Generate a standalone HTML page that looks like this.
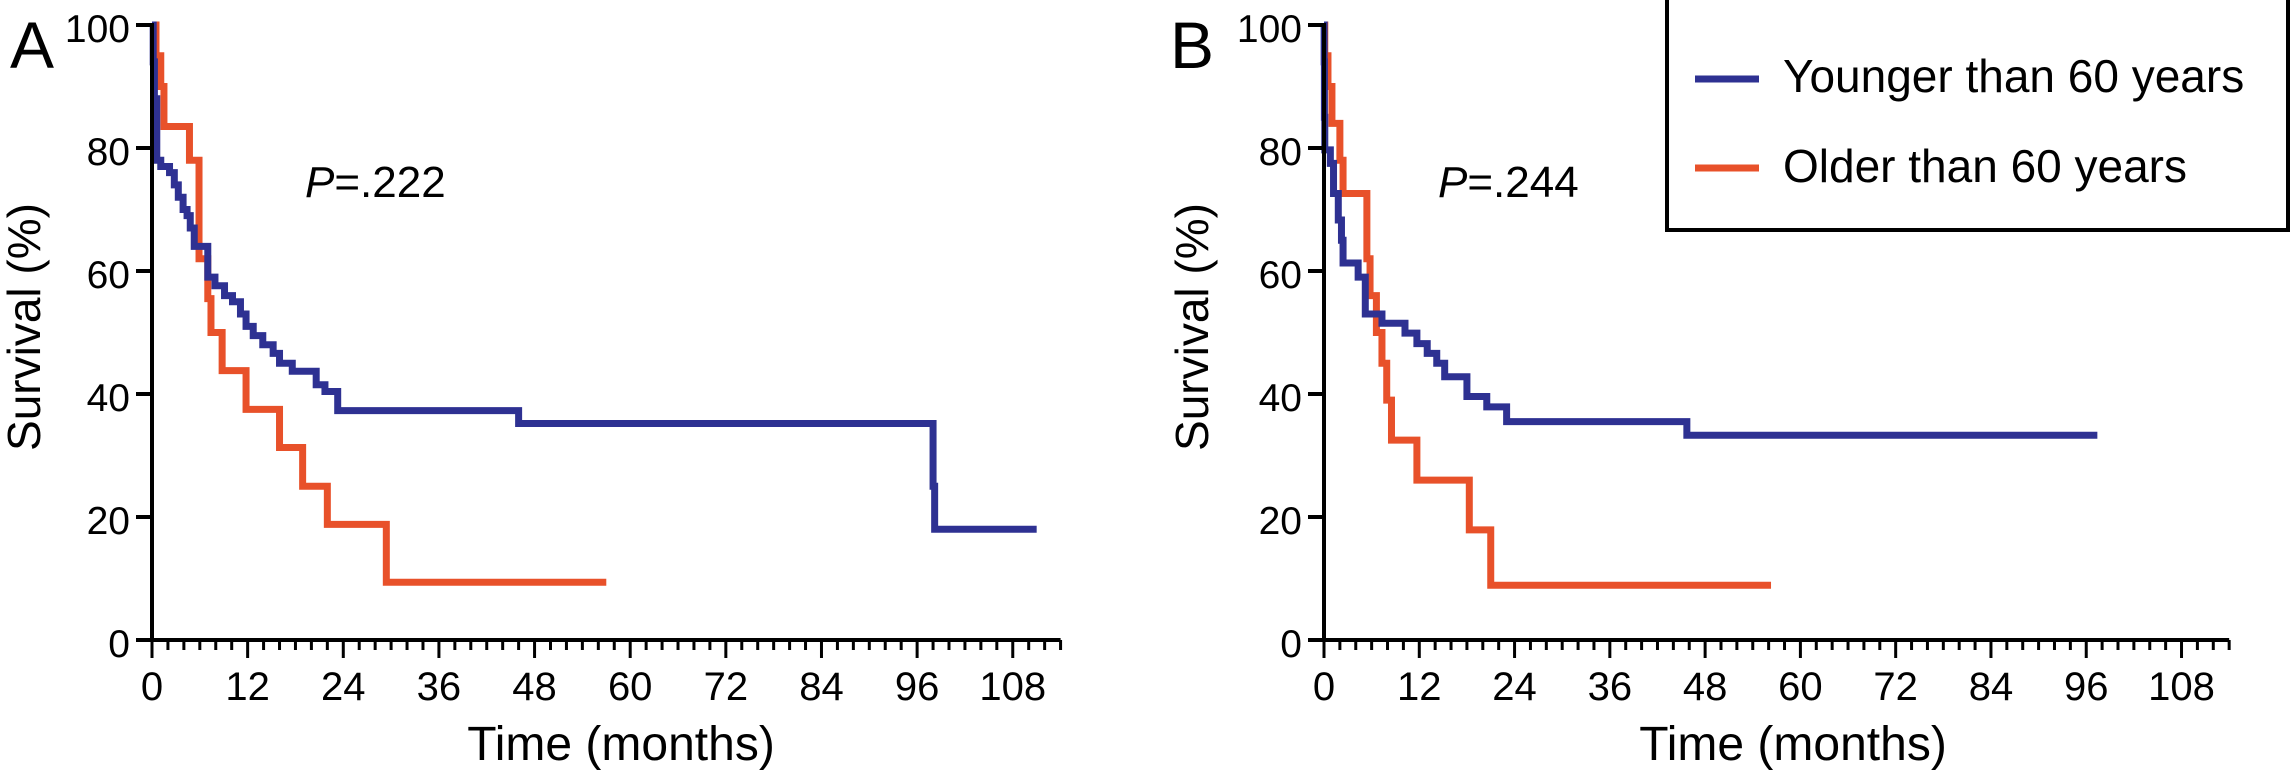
<!DOCTYPE html>
<html><head><meta charset="utf-8"><style>
html,body{margin:0;padding:0;background:#fff}
svg{display:block;font-family:"Liberation Sans",Arial,sans-serif}
</style></head><body>
<svg id="chart" width="2292" height="783" viewBox="0 0 2292 783" xmlns="http://www.w3.org/2000/svg">
<rect x="0" y="0" width="2292" height="783" fill="#fff"/>
<g id="panels"></g>
<g>
<rect x="1667" y="-3" width="621" height="233" fill="#fff" stroke="#000" stroke-width="4"/>
<line x1="1695" y1="79" x2="1759" y2="79" stroke="#2e3192" stroke-width="7"/>
<text x="1783" y="92" font-size="46">Younger than 60 years</text>
<line x1="1695" y1="168" x2="1759" y2="168" stroke="#e8512a" stroke-width="7"/>
<text x="1783" y="182" font-size="46">Older than 60 years</text>
</g>
</svg>
<script>
const xTicks = [0,12,24,36,48,60,72,84,96,108];
const yTicks = [0,20,40,60,80,100];
// Panel A
const aYoungT = [0,0.15,0.3,0.6,1.1,2.2,2.8,3.3,3.9,4.4,4.8,5.3,7.0,7.9,9.1,10.1,11.1,11.8,12.7,13.9,15.2,16.0,17.6,20.6,21.7,23.3,46,98,98.2];
const aYoungS = [100,94,88,78,77,76,74,72,70,69,67,64,59,57.6,56,55,53,51,49.5,48,46.6,45,43.7,41.5,40.4,37.3,35.2,25,18];
const aYoungEnd = 111;
const aOldT = [0,0.5,1.1,1.5,4.7,5.9,7.0,7.4,8.8,11.8,16.0,18.9,22.0,29.4];
const aOldS = [100,95,90,83.5,78,62,55.5,50,43.8,37.5,31.3,25,18.8,9.4];
const aOldEnd = 57;
// Panel B
const bYoungT = [0,0.02,0.05,0.1,0.8,1.2,1.8,2.2,2.4,4.3,5.2,7.3,10.2,11.7,13.0,14.2,15.2,18.0,20.5,23.0,45.7];
const bYoungS = [100,94,85,79.7,77.5,72.6,68.3,65,61.3,59,53,51.5,49.9,48.2,46.6,45,42.8,39.6,37.9,35.5,33.3];
const bYoungEnd = 97.4;
const bOldT = [0,0.1,0.5,1.0,2.0,2.4,5.4,5.8,6.6,7.3,7.9,8.5,11.7,18.3,21.0];
const bOldS = [100,95,90,84,78,72.6,62,56,50,45,39,32.5,26,17.9,8.9];
const bOldEnd = 56.3;

const NS = "http://www.w3.org/2000/svg";
const root = document.getElementById('panels');
function el(tag, attrs, parent){const e=document.createElementNS(NS,tag);for(const k in attrs)e.setAttribute(k,attrs[k]);parent.appendChild(e);return e;}

function panel(cfg){
  const g = el('g',{},root);
  
  
  const x0=cfg.x0, pm=cfg.perMonth, yB=640, yT=25;
  const xs = m => x0 + m*pm;
  const ys = v => yB - (v/100)*(yB-yT);
  function curve(T,S,end,color,name){
    let d='M'+xs(T[0])+' '+ys(S[0]);
    for(let i=1;i<T.length;i++){d+=' H'+xs(T[i])+' V'+ys(S[i]);}
    d+=' H'+xs(end);
    const p=el('path',{d:d,fill:'none',stroke:color,'stroke-width':7,'stroke-linejoin':'miter','stroke-linecap':'butt'},g);
    
    
  }
  curve(cfg.oT,cfg.oS,cfg.oEnd,'#e8512a','older-curve-'+cfg.id);
  curve(cfg.yT,cfg.yS,cfg.yEnd,'#2e3192','younger-curve-'+cfg.id);
  const ya=el('line',{x1:x0,y1:yT-2,x2:x0,y2:yB+2,stroke:'#000','stroke-width':4},g);
  
  
  const xa=el('line',{x1:x0-2,y1:yB,x2:xs(114),y2:yB,stroke:'#000','stroke-width':4},g);
  
  
  for(let m=0;m<=114;m+=2){
    const major = m%12===0;
    el('line',{x1:xs(m),y1:yB,x2:xs(m),y2:yB+(major?18:10),stroke:'#000','stroke-width':3},g);
  }
  xTicks.forEach(t=>{
    const tx=el('text',{x:xs(t),y:700,'font-size':40,'text-anchor':'middle'},g);
    tx.textContent=t;
    
    
  });
  yTicks.forEach(t=>{
    el('line',{x1:x0-16,y1:ys(t),x2:x0,y2:ys(t),stroke:'#000','stroke-width':4},g);
    const tx=el('text',{x:x0-22,y:ys(t)+17,'font-size':39,'text-anchor':'end'},g);
    tx.textContent=t;
    
    
  });
  const xt=el('text',{x:x0+469,y:760,'font-size':48,'text-anchor':'middle'},g);
  xt.textContent='Time (months)';
  
  
  const yt=el('text',{x:0,y:0,'font-size':46,'text-anchor':'middle',transform:'translate('+cfg.ylx+',327) rotate(-90)'},g);
  yt.textContent='Survival (%)';
  
  
  const lt=el('text',{x:cfg.lx,y:68,'font-size':66},g);
  lt.textContent=cfg.id;
  
  
  const pv=el('text',{x:cfg.px,y:197,'font-size':44},g);
  const pi=el('tspan',{'font-style':'italic'},pv); pi.textContent='P';
  const pr=el('tspan',{},pv); pr.textContent=cfg.p;
  
  
}
panel({id:'A',x0:152,perMonth:7.97,yT:aYoungT,yS:aYoungS,yEnd:aYoungEnd,oT:aOldT,oS:aOldS,oEnd:aOldEnd,ylx:40,lx:10,px:305,p:'=.222'});
panel({id:'B',x0:1324,perMonth:7.94,yT:bYoungT,yS:bYoungS,yEnd:bYoungEnd,oT:bOldT,oS:bOldS,oEnd:bOldEnd,ylx:1208,lx:1170,px:1438,p:'=.244'});
</script>
</body></html>
